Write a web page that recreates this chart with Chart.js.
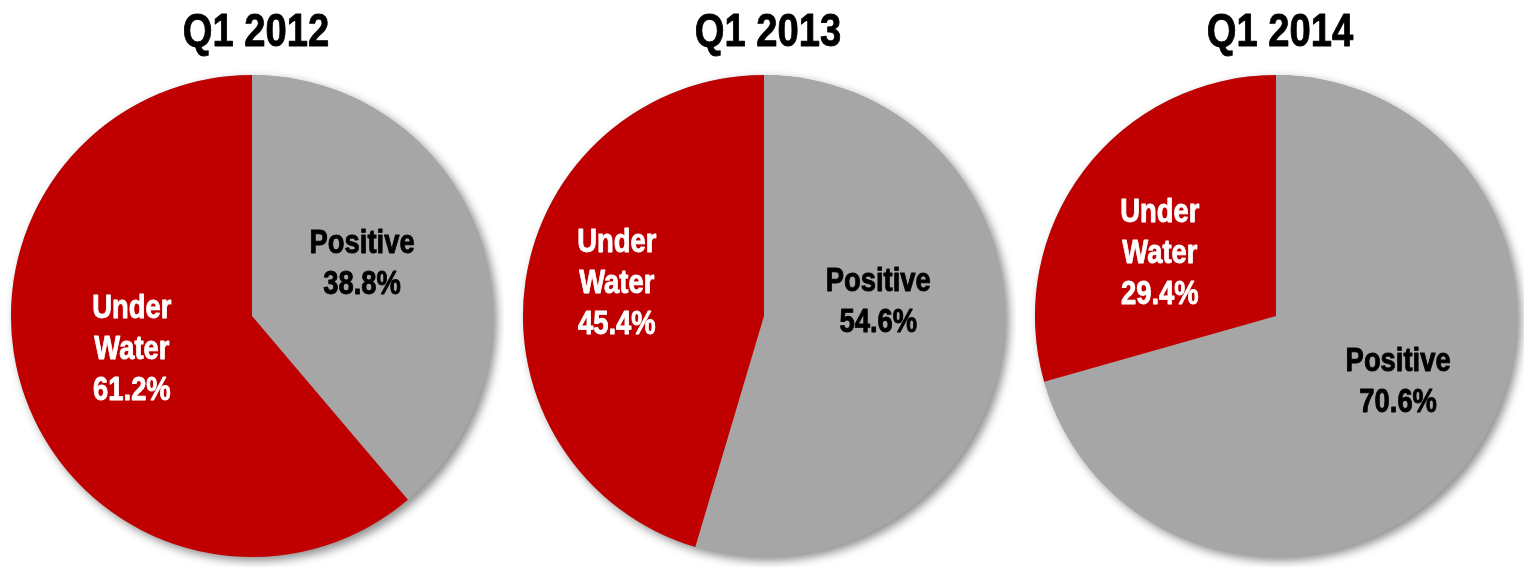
<!DOCTYPE html>
<html>
<head>
<meta charset="utf-8">
<script src="https://cdn.jsdelivr.net/npm/chart.js@4.4.1/dist/chart.umd.min.js"></script>
<style>
  html, body { margin: 0; padding: 0; background: #ffffff; }
  #wrap { position: relative; width: 1524px; height: 567px; overflow: hidden; }
  #wrap canvas { position: absolute; top: 0; }
</style>
</head>
<body>
<div id="wrap">
  <canvas id="pie0" width="504" height="567" style="left:0px"></canvas>
  <canvas id="pie1" width="504" height="567" style="left:512px"></canvas>
  <canvas id="pie2" width="504" height="567" style="left:1024px"></canvas>
</div>
<script>
// quarters and shares of loans (percent)
const quarters = ['Q1 2012', 'Q1 2013', 'Q1 2014'];
const categories = ['Positive', 'Under Water'];
const positive = [38.8, 54.6, 70.6];
const underWater = [61.2, 45.4, 29.4];

const RED = '#C00000';
const GREY = '#A6A6A6';
const FONT = '"Liberation Sans", Arial, sans-serif';
const SQUEEZE = 0.83; // narrow the bold face horizontally

// small shifts of each label away from the slice middle, [positive, under water]
const labelShift = [
  [[-3, -13], [-7, -11]],
  [[-5, -34], [-28, -18]],
  [[26, -9], [-20, 8]]
];

function narrowText(ctx, text, x, y, size, color) {
  ctx.save();
  ctx.font = 'bold ' + size + 'px ' + FONT;
  ctx.textAlign = 'center';
  ctx.textBaseline = 'alphabetic';
  ctx.fillStyle = color;
  ctx.strokeStyle = color;
  ctx.lineWidth = 0.9;
  ctx.lineJoin = 'round';
  ctx.translate(x, y);
  ctx.scale(SQUEEZE, 1);
  ctx.fillText(text, 0, 0);
  ctx.strokeText(text, 0, 0);
  ctx.restore();
}

// soft shadow under the whole pie
const pieShadow = {
  id: 'pieShadow',
  beforeDatasetsDraw(chart) {
    const arc = chart.getDatasetMeta(0).data[0];
    if (!arc) return;
    const ctx = chart.ctx;
    ctx.save();
    ctx.shadowColor = 'rgba(0,0,0,0.45)';
    ctx.shadowBlur = 10;
    ctx.shadowOffsetX = 4;
    ctx.shadowOffsetY = 4;
    ctx.fillStyle = GREY;
    ctx.beginPath();
    ctx.arc(arc.x, arc.y, arc.outerRadius, 0, Math.PI * 2);
    ctx.fill();
    ctx.restore();
  }
};

// title and slice labels
const pieText = {
  id: 'pieText',
  afterDatasetsDraw(chart, args, opts) {
    const ctx = chart.ctx;
    const meta = chart.getDatasetMeta(0);
    const ds = chart.data.datasets[0];
    const cx = meta.data[0].x;

    narrowText(ctx, opts.title, cx + 4, 46, 46, '#000000');

    const capH = 24, lh = 41;
    meta.data.forEach((arc, i) => {
      const mid = (arc.startAngle + arc.endAngle) / 2;
      const d = arc.outerRadius * 0.5;
      const shift = opts.shift[i];
      const x = arc.x + Math.cos(mid) * d + shift[0];
      const y = arc.y + Math.sin(mid) * d + shift[1];
      const lines = chart.data.labels[i].split(' ');
      lines.push(ds.data[i].toFixed(1) + '%');
      const span = capH + (lines.length - 1) * lh;
      const color = i === 0 ? '#000000' : '#FFFFFF';
      lines.forEach((t, k) => {
        narrowText(ctx, t, x, y - span / 2 + capH + k * lh, 33, color);
      });
    });
  }
};

quarters.forEach((q, idx) => {
  new Chart(document.getElementById('pie' + idx), {
    type: 'pie',
    data: {
      labels: categories,
      datasets: [{
        data: [positive[idx], underWater[idx]],
        backgroundColor: [GREY, RED],
        borderWidth: 0
      }]
    },
    options: {
      responsive: false,
      animation: false,
      layout: { padding: { top: 75, bottom: 10, left: 0, right: 0 } },
      plugins: {
        legend: { display: false },
        tooltip: { enabled: false },
        title: { display: false },
        pieText: { title: q, shift: labelShift[idx] }
      }
    },
    plugins: [pieShadow, pieText]
  });
});
</script>
</body>
</html>
